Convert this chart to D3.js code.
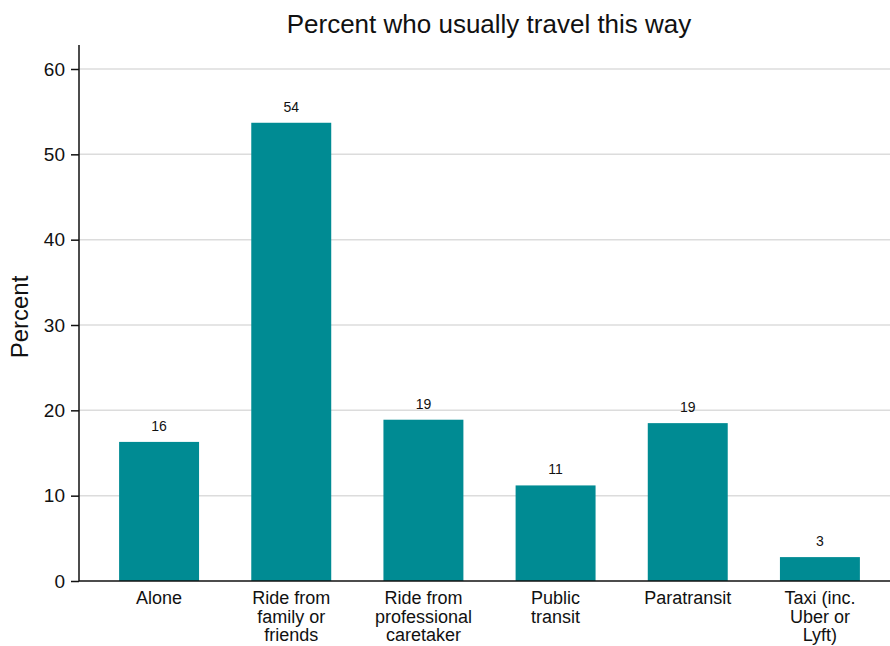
<!DOCTYPE html>
<html><head><meta charset="utf-8">
<script src="https://cdn.jsdelivr.net/npm/d3@7"></script>
<style>body{margin:0;background:#fff}svg{display:block;font-family:"Liberation Sans",Arial,Helvetica,sans-serif}</style>
</head><body>
<script>
const categories = [["Alone"],["Ride from","family or","friends"],["Ride from","professional","caretaker"],["Public","transit"],["Paratransit"],["Taxi (inc.","Uber or","Lyft)"]];
const values = [16.3, 53.7, 18.9, 11.2, 18.5, 2.8];
const valueLabels = ["16","54","19","11","19","3"];
const yTicks = [0,10,20,30,40,50,60];
const title = "Percent who usually travel this way";
const yTitle = "Percent";
const barColor = "#008b93";

const W = 890, H = 646;
const svg = d3.select("body").append("svg").attr("width", W).attr("height", H);
const axisX = 79, plotRight = 890, plotTop = 45;
const y = d3.scaleLinear().domain([0,60]).range([581,69]);
const x = d3.scaleBand().domain(d3.range(categories.length)).range([93,886]).padding(0);
const bw = x.bandwidth()*0.605;

// grid
svg.append("g").selectAll("line").data(yTicks.filter(d=>d>0)).join("line")
  .attr("x1", axisX).attr("x2", plotRight).attr("y1", d=>y(d)).attr("y2", d=>y(d))
  .attr("stroke", "#dcdcdc").attr("stroke-width", 1.5);

// bars
svg.append("g").selectAll("rect").data(values).join("rect")
  .attr("x", (d,i)=>x(i)+x.bandwidth()/2-bw/2).attr("width", bw)
  .attr("y", d=>y(d)).attr("height", d=>y(0)-y(d)).attr("fill", barColor);

// value labels
svg.append("g").selectAll("text").data(values).join("text")
  .attr("x", (d,i)=>x(i)+x.bandwidth()/2).attr("y", d=>y(d)-11)
  .attr("text-anchor","middle").attr("font-size",14).attr("fill","#111")
  .text((d,i)=>valueLabels[i]);

// y axis
const ya = d3.axisLeft(y).tickValues(yTicks).tickSize(8).tickPadding(6);
const gy = svg.append("g").attr("transform",`translate(${axisX},0)`).call(ya);
gy.select(".domain").remove();
gy.selectAll("text").attr("font-size",19).attr("fill","#111").style("font-family",'"Liberation Sans",Arial,sans-serif');
gy.selectAll("line").attr("stroke","#111").attr("stroke-width",1.5);
svg.append("line").attr("x1",axisX).attr("x2",axisX).attr("y1",plotTop).attr("y2",y(0))
  .attr("stroke","#111").attr("stroke-width",1.5);
svg.append("line").attr("x1",axisX).attr("x2",plotRight).attr("y1",y(0)).attr("y2",y(0))
  .attr("stroke","#111").attr("stroke-width",1.5);

// x labels
const xl = svg.append("g").selectAll("text").data(categories).join("text")
  .attr("text-anchor","middle").attr("font-size",18).attr("fill","#111")
  .attr("x",(d,i)=>x(i)+x.bandwidth()/2).attr("y",604);
xl.selectAll("tspan").data(d=>d).join("tspan")
  .attr("x",function(){return this.parentNode.getAttribute("x");})
  .attr("dy",(d,i)=>i===0?0:18.5).text(d=>d);

// titles
svg.append("text").attr("x",489).attr("y",33).attr("text-anchor","middle")
  .attr("font-size",26).attr("fill","#111").text(title);
svg.append("text").attr("transform",`translate(28,${(y(0)+plotTop)/2+4}) rotate(-90)`)
  .attr("text-anchor","middle").attr("font-size",24).attr("fill","#111").text(yTitle);
</script>
</body></html>
